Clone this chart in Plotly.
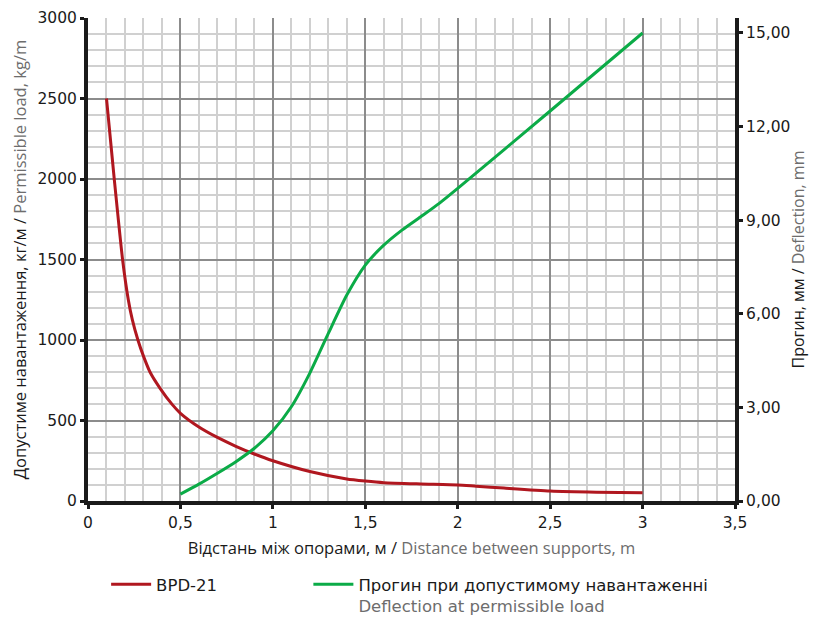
import plotly.graph_objects as go

# Дані
proliot_bpd = [0.1, 0.142, 0.187, 0.218, 0.24, 0.27, 0.3, 0.336, 0.39, 0.455, 0.5, 0.6, 0.7,
               0.8, 0.9, 1.0, 1.2, 1.4, 1.5, 1.6, 1.8, 2.0, 2.1, 2.25, 2.5, 2.75, 3.0]
navantazh_bpd = [2500, 2000, 1500, 1250, 1125, 1000, 900, 800, 700, 600, 545, 460, 395,
                 340, 292, 250, 183, 137, 124, 114, 106, 100, 92, 80, 62, 55, 52]

proliot_progyn = [0.5, 0.6, 0.7, 0.8, 0.9, 1.0, 1.1, 1.2, 1.3, 1.4, 1.5, 1.6, 1.7, 1.8, 1.9, 2.0, 2.5, 3.0]
progyn = [0.22, 0.54, 0.89, 1.26, 1.69, 2.25, 3.02, 4.1, 5.37, 6.6, 7.56, 8.2, 8.69, 9.11, 9.54, 10.02, 12.5, 15.0]

chorny = '#1a1a1a'
siryi = '#6d6d6d'

fig = go.Figure()
fig.add_trace(go.Scatter(x=proliot_bpd, y=navantazh_bpd, mode='lines', name='BPD-21', legend='legend2',
                         line=dict(color='#b0171f', width=3, shape='spline', smoothing=0.6)))
fig.add_trace(go.Scatter(x=proliot_progyn, y=progyn, mode='lines', yaxis='y2', legend='legend3',
                         name="Прогин при допустимому навантаженні<br><span style='color:#6d6d6d'>Deflection at permissible load</span>",
                         line=dict(color='#0bab47', width=3, shape='spline', smoothing=0.6)))

osi = dict(showline=True, linecolor=chorny, linewidth=4, ticks='outside', tickcolor=chorny,
           ticklen=4, tickwidth=3, gridcolor='#8c8c8c', gridwidth=1.5, zeroline=False,
           automargin=False, tickfont=dict(family='DejaVu Sans', size=15.5, color=chorny))
shryft_nazvy = dict(size=16.5, family='Open Sans', color=chorny)
legenda = dict(orientation='h', xref='container', yref='container', xanchor='left', yanchor='top',
               valign='top', bgcolor='rgba(0,0,0,0)',
               font=dict(size=16.5, family='DejaVu Sans', color=chorny), itemwidth=40)

# сторінка має відступ 8 px, тож фігура зсунута на 8 px у вікні 817x617
fig.update_layout(
    width=801, height=609,
    margin=dict(l=80, r=74, t=10, b=116),
    plot_bgcolor='white', paper_bgcolor='white',
    separators=', ',
    font=dict(family='Noto Sans', color=chorny),
    xaxis=dict(osi, range=[0, 3.5], dtick=0.5,
               minor=dict(dtick=0.1, showgrid=True, gridcolor='#d0d0d0', gridwidth=1.5),
               title=dict(text="Відстань між опорами, м / <span style='color:#6d6d6d'>Distance between supports, m</span>",
                          font=shryft_nazvy, standoff=13)),
    yaxis=dict(osi, range=[0, 3000], dtick=500,
               minor=dict(dtick=100, showgrid=True, gridcolor='#d0d0d0', gridwidth=1.5),
               title=dict(text="Допустиме навантаження, кг/м / <span style='color:#6d6d6d'>Permissible load, kg/m</span>",
                          font=shryft_nazvy, standoff=10)),
    yaxis2=dict(osi, overlaying='y', side='right', range=[0, 15.48], tickvals=[0, 3, 6, 9, 12, 15],
                tickformat='.2f', showgrid=False,
                title=dict(text="Прогин, мм / <span style='color:#6d6d6d'>Deflection, mm</span>",
                           font=dict(shryft_nazvy, size=16), standoff=13)),
    legend2=dict(legenda, x=0.1225, y=0.0821),
    legend3=dict(legenda, x=0.375, y=0.0821),
)

fig.write_html("out.html")
